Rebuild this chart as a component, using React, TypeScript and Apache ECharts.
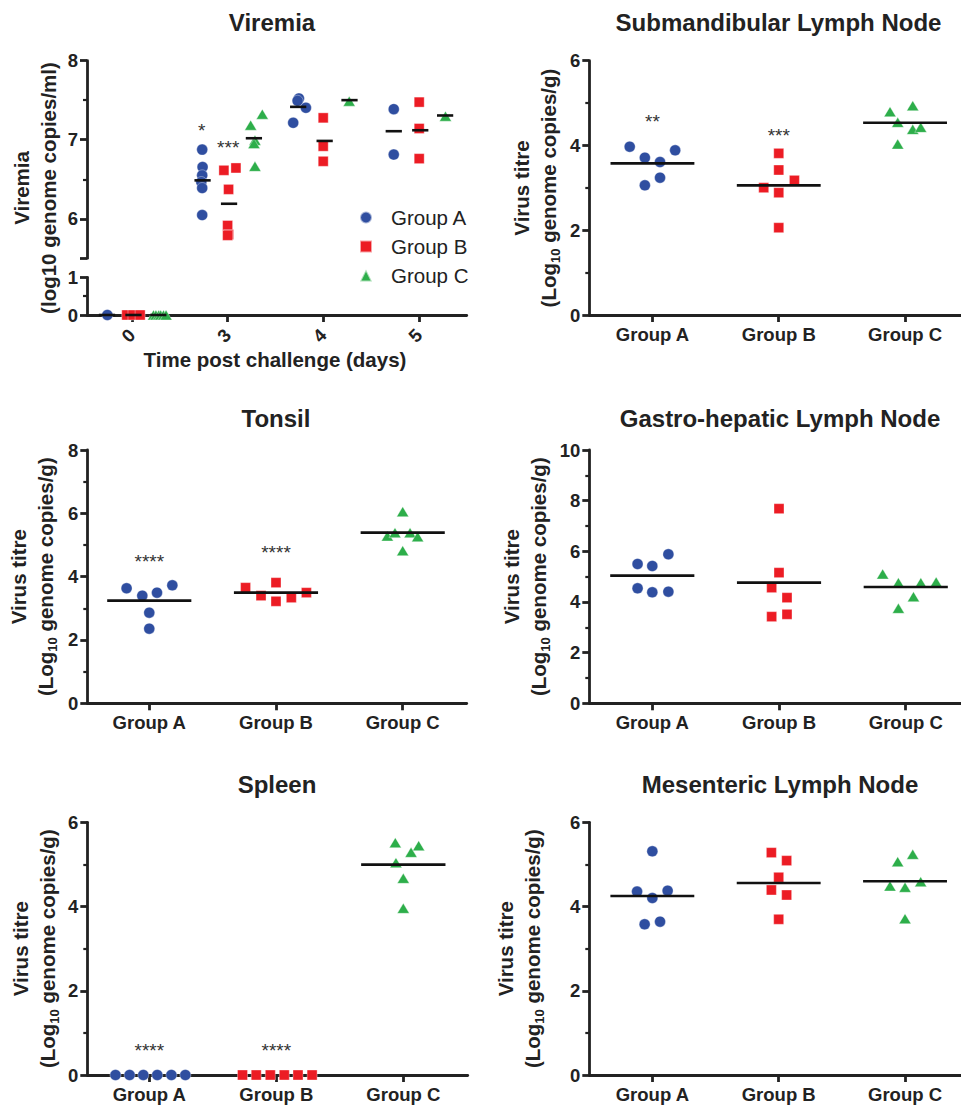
import React, { useEffect, useRef } from 'react';
import * as echarts from 'echarts';

// ---------------- data ----------------
const groupNames = ['Group A', 'Group B', 'Group C'];
const dayLabels = ['0', '3', '4', '5'];
const tissueCategories = ['Group A', 'Group B', 'Group C'];

// Viremia (log10 genome copies/ml), per group, per day (0, 3, 4, 5)
const viremiaA = [[0], [6.875, 6.655, 6.55, 6.465, 6.389, 6.047], [7.522, 7.493, 7.404, 7.214], [7.387, 6.812]];
const viremiaB = [[0, 0, 0], [6.613, 6.643, 6.372, 5.915, 5.801, 5.79], [7.277, 6.918, 6.727], [7.476, 7.142, 6.761]];
const viremiaC = [[0, 0, 0, 0, 0, 0], [7.184, 7.323, 6.994, 6.951, 6.664], [7.488], [7.298]];
// horizontal jitter of each point (in day-category units)
const viremiaJitterA = [[-0.258], [-0.266, -0.262, -0.266, -0.275, -0.266, -0.266], [-0.254, -0.268, -0.181, -0.314], [-0.262, -0.262]];
const viremiaJitterB = [[-0.055, 0.01, 0.085], [-0.039, 0.087, 0.01, 0, 0.01, 0.0], [0, 0, 0], [0.004, 0.004, 0.004]];
const viremiaJitterC = [[0.225, 0.25, 0.28, 0.3, 0.33, 0.356], [0.241, 0.363, 0.286, 0.276, 0.286], [0.272], [0.279]];
const viremiaMeanA = [0, 6.486, 7.416, 7.108];
const viremiaMeanB = [0, 6.19, 6.985, 7.12];
const viremiaMeanC = [0, 7.019, 7.501, 7.307];
const viremiaMeanShift = [-0.262, 0.015, 0.275];
const viremiaStarText = ['*', '***'];
const viremiaStarDay = [1, 1];
const viremiaStarShift = [-0.272, 0.006];
const viremiaStarY = [7.174, 6.955];

// Submandibular lymph node
const submandA = [3.971, 3.712, 3.609, 3.885, 3.24, 3.059];
const submandB = [3.814, 3.421, 3.177, 3.004, 2.886, 2.06];
const submandC = [4.797, 4.938, 4.545, 4.38, 4.427, 4.034];
const submandJitterA = [-0.18, -0.06, 0.06, 0.18, 0.06, -0.06];
const submandJitterB = [0, 0, 0.124, -0.119, 0, 0];
const submandJitterC = [-0.119, 0.061, -0.058, 0.061, 0.124, -0.058];
const submandMeans = [3.578, 3.059, 4.537];
const submandStars = ['**', '***', ''];
const submandStarY = [4.679, 4.349, 0];

// Tonsil
const tonsilA = [3.632, 3.4, 3.495, 3.726, 2.863, 2.358];
const tonsilB = [3.653, 3.4, 3.811, 3.221, 3.337, 3.495];
const tonsilC = [6.053, 5.284, 5.389, 5.389, 5.263, 4.821];
const tonsilJitterA = [-0.179, -0.055, 0.061, 0.182, 0, 0];
const tonsilJitterB = [-0.24, -0.118, 0, 0, 0.121, 0.24];
const tonsilJitterC = [0, -0.121, -0.061, 0.058, 0.118, 0];
const tonsilMeans = [3.242, 3.495, 5.389];
const tonsilStars = ['****', '****', ''];
const tonsilStarY = [4.632, 4.895, 0];

// Gastro-hepatic lymph node
const gastroA = [5.5, 5.421, 5.882, 4.539, 4.382, 4.408];
const gastroB = [7.684, 5.158, 4.566, 4.171, 3.421, 3.513];
const gastroC = [5.105, 4.763, 4.763, 4.789, 4.211, 3.75];
const gastroJitterA = [-0.116, 0, 0.127, -0.116, 0, 0.127];
const gastroJitterB = [0, 0, -0.058, 0.063, -0.058, 0.063];
const gastroJitterC = [-0.182, -0.058, 0.119, 0.24, 0.061, -0.058];
const gastroMeans = [5.039, 4.763, 4.592];
const gastroStars = ['', '', ''];
const gastroStarY = [0, 0, 0];

// Spleen
const spleenA = [0, 0, 0, 0, 0, 0];
const spleenB = [0, 0, 0, 0, 0, 0];
const spleenC = [5.517, 5.446, 5.288, 5.042, 4.67, 3.958];
const spleenJitterA = [-0.266, -0.155, -0.047, 0.063, 0.174, 0.284];
const spleenJitterB = [-0.266, -0.158, -0.047, 0.063, 0.171, 0.282];
const spleenJitterC = [-0.063, 0.121, 0.061, -0.058, 0, 0];
const spleenMeans = [null, null, 4.995];
const spleenStars = ['****', '****', ''];
const spleenStarY = [0.689, 0.689, 0];

// Mesenteric lymph node
const mesenA = [5.311, 4.354, 4.377, 4.203, 3.641, 3.578];
const mesenB = [5.28, 5.09, 4.694, 4.393, 4.274, 3.697];
const mesenC = [5.066, 5.24, 4.591, 4.488, 4.457, 3.712];
const mesenJitterA = [0, -0.121, 0.121, 0, 0.061, -0.061];
const mesenJitterB = [-0.058, 0.063, 0, -0.058, 0.063, 0];
const mesenJitterC = [-0.058, 0.061, 0.124, -0.119, 0, 0];
const mesenMeans = [4.251, 4.559, 4.599];
const mesenStars = ['', '', ''];
const mesenStarY = [0, 0, 0];

// ---------------- style ----------------
const FONT = '"Liberation Sans", Arial, Helvetica, sans-serif';
const INK = '#222222';
const COLORS = ['#2F4EA0', '#EC1C24', '#2DAE4A'];
const SYMBOLS = ['circle', 'rect', 'triangle'];
const SYMBOL_SIZES: any[] = [11, 10, [12, 10]];

const lineStyle = { color: INK, width: 2.8 };
const labelStyle = { fontFamily: FONT, fontSize: 18.5, fontWeight: 'bold', color: INK };

function buildOption() {
  const grid: any[] = [];
  const xAxis: any[] = [];
  const yAxis: any[] = [];
  const series: any[] = [];
  const graphic: any[] = [];

  const addGrid = (r: any) => {
    grid.push({ left: r.left, top: r.top, width: r.width, height: r.height, containLabel: false, outerBoundsMode: 'none', show: false });
    return grid.length - 1;
  };
  const addX = (a: any) => { xAxis.push(a); return xAxis.length - 1; };
  const addY = (a: any) => { yAxis.push(a); return yAxis.length - 1; };

  const visibleX = (gi: number, min: number, max: number, labels: string[], rotate: number) => {
    const ticks = labels.map((_, i) => i);
    return {
      gridIndex: gi, type: 'value', min, max, position: 'bottom',
      axisLine: { show: true, onZero: false, lineStyle },
      axisTick: { show: true, inside: false, length: 7, customValues: ticks, lineStyle },
      axisLabel: { show: true, customValues: ticks, formatter: (v: number) => labels[Math.round(v)], rotate, margin: rotate ? 17 : 10, ...labelStyle },
      splitLine: { show: false }, minorTick: { show: false }, minorSplitLine: { show: false },
    };
  };
  const visibleY = (gi: number, min: number, max: number, interval: number) => ({
    gridIndex: gi, type: 'value', position: 'left', min, max, interval,
    axisLine: { show: true, onZero: false, lineStyle },
    axisTick: { show: true, inside: false, length: 7, lineStyle },
    minorTick: { show: true, splitNumber: 2, length: 4, lineStyle: { color: INK, width: 2.2 } },
    axisLabel: { show: true, margin: 9, ...labelStyle },
    splitLine: { show: false }, minorSplitLine: { show: false },
  });

  const scatter = (g: number, xi: number, yi: number, data: number[][]) => ({
    type: 'scatter', name: groupNames[g], xAxisIndex: xi, yAxisIndex: yi, data,
    symbol: SYMBOLS[g], symbolSize: SYMBOL_SIZES[g],
    itemStyle: { color: COLORS[g], borderColor: 'rgba(255,255,255,0.6)', borderWidth: 0.6, opacity: 1 },
    clip: false, z: 3, silent: true, emphasis: { disabled: true },
  });
  const meanLines = (xi: number, yi: number, data: number[][], hw: number) => ({
    type: 'custom', coordinateSystem: 'cartesian2d', xAxisIndex: xi, yAxisIndex: yi, data, clip: false, z: 4, silent: true,
    renderItem: (params: any, api: any) => {
      const x = api.value(0), y = api.value(1);
      const p1 = api.coord([x - hw, y]);
      const p2 = api.coord([x + hw, y]);
      return { type: 'line', shape: { x1: p1[0], y1: p1[1], x2: p2[0], y2: p2[1] }, style: { stroke: '#111', lineWidth: 2.6 } };
    },
  });
  const starSeries = (xi: number, yi: number, data: number[][], texts: string[]) => ({
    type: 'custom', coordinateSystem: 'cartesian2d', xAxisIndex: xi, yAxisIndex: yi, data, clip: false, z: 5, silent: true,
    renderItem: (params: any, api: any) => {
      const p = api.coord([api.value(0), api.value(1)]);
      return {
        type: 'text', x: p[0], y: p[1] + 4.6,
        style: { text: texts[params.dataIndex], fill: '#333', fontFamily: FONT, fontSize: 19, align: 'center', verticalAlign: 'middle' },
      };
    },
  });

  const RICH = {
    t: { fontFamily: FONT, fontWeight: 'bold', fontSize: 20.5, lineHeight: 27, fill: INK },
    s: { fontFamily: FONT, fontWeight: 'bold', fontSize: 13, lineHeight: 14, verticalAlign: 'bottom', fill: INK },
  };
  const yName = (text: string, x: number, y: number) => ({
    type: 'text', x, y, rotation: Math.PI / 2, silent: true,
    style: { text, rich: RICH, align: 'center', verticalAlign: 'middle', fill: INK, fontFamily: FONT, fontWeight: 'bold', fontSize: 20.5, lineHeight: 27 },
  });
  const title = (text: string, x: number, y: number) => ({
    type: 'text', x, y, silent: true,
    style: { text, fill: INK, fontFamily: FONT, fontWeight: 'bold', fontSize: 24, align: 'center', verticalAlign: 'middle' },
  });
  const TISSUE_NAME = '{t|Virus titre}\n{t|(Log}{s|10}{t| genome copies/g)}';

  // ---------- Viremia ----------
  const VX_MIN = -0.471, VX_MAX = 3.501;
  const gU = addGrid({ left: 87, top: 60.7, width: 379.7, height: 197.6 });
  const gL = addGrid({ left: 87, top: 277.3, width: 379.7, height: 37.7 });
  const xU = addX({ gridIndex: gU, type: 'value', min: VX_MIN, max: VX_MAX, show: false, splitLine: { show: false } });
  const xL = addX(visibleX(gL, VX_MIN, VX_MAX, dayLabels, 45));
  const yU = addY({
    gridIndex: gU, type: 'value', position: 'left', min: 5.5, max: 8,
    axisLine: { show: true, onZero: false, lineStyle },
    axisTick: { show: true, length: 7, customValues: [5.5, 6, 7, 8], lineStyle },
    axisLabel: { show: true, customValues: [6, 7, 8], margin: 9, ...labelStyle },
    splitLine: { show: false }, minorTick: { show: false },
  });
  addY({
    gridIndex: gU, type: 'value', position: 'left', min: 5.5, max: 8,
    axisLine: { show: false, onZero: false },
    axisTick: { show: true, length: 4, customValues: [6.5, 7.5], lineStyle: { color: INK, width: 2.2 } },
    axisLabel: { show: false }, splitLine: { show: false }, minorTick: { show: false },
  });
  const yL = addY(visibleY(gL, 0, 1, 1));

  const vValues = [viremiaA, viremiaB, viremiaC];
  const vJitter = [viremiaJitterA, viremiaJitterB, viremiaJitterC];
  const vMeans = [viremiaMeanA, viremiaMeanB, viremiaMeanC];
  for (let g = 0; g < 3; g++) {
    const upper: number[][] = [];
    const lower: number[][] = [];
    vValues[g].forEach((vals, d) => {
      vals.forEach((v, k) => {
        const pt = [d + vJitter[g][d][k], v];
        if (d === 0) lower.push(pt); else upper.push(pt);
      });
    });
    series.push(scatter(g, xU, yU, upper));
    series.push(scatter(g, xL, yL, lower));
    const mU: number[][] = [];
    const mL: number[][] = [];
    vMeans[g].forEach((m, d) => {
      const pt = [d + viremiaMeanShift[g], m];
      if (d === 0) mL.push(pt); else mU.push(pt);
    });
    series.push(meanLines(xU, yU, mU, 0.085));
    series.push(meanLines(xL, yL, mL, 0.085));
  }
  series.push(starSeries(xU, yU, viremiaStarText.map((_, i) => [viremiaStarDay[i] + viremiaStarShift[i], viremiaStarY[i]]), viremiaStarText));

  graphic.push(title('Viremia', 272, 22));
  graphic.push(yName('{t|Viremia}\n{t|(log10 genome copies/ml)}', 34.5, 188));
  graphic.push({
    type: 'text', x: 275, y: 359, silent: true,
    style: { text: 'Time post challenge (days)', fill: INK, fontFamily: FONT, fontWeight: 'bold', fontSize: 20.5, align: 'center', verticalAlign: 'middle' },
  });

  // ---------- tissue panels ----------
  const panels = [
    {
      title: 'Submandibular Lymph Node', titlePos: [778.5, 22], nameX: 535, nameY: 188,
      grid: { left: 589.3, top: 60.7, width: 371.7, height: 254.3 }, xMin: -0.5, xMax: 2.443, yMax: 6,
      values: [submandA, submandB, submandC], jitter: [submandJitterA, submandJitterB, submandJitterC],
      means: submandMeans, stars: submandStars, starY: submandStarY,
    },
    {
      title: 'Tonsil', titlePos: [276, 418], nameX: 31.7, nameY: 576.7,
      grid: { left: 87.3, top: 450, width: 379.4, height: 253.3 }, xMin: -0.489, xMax: 2.505, yMax: 8,
      values: [tonsilA, tonsilB, tonsilC], jitter: [tonsilJitterA, tonsilJitterB, tonsilJitterC],
      means: tonsilMeans, stars: tonsilStars, starY: tonsilStarY,
    },
    {
      title: 'Gastro-hepatic Lymph Node', titlePos: [780, 418], nameX: 524.5, nameY: 576.7,
      grid: { left: 589.3, top: 450, width: 371.7, height: 253.3 }, xMin: -0.497, xMax: 2.436, yMax: 10,
      values: [gastroA, gastroB, gastroC], jitter: [gastroJitterA, gastroJitterB, gastroJitterC],
      means: gastroMeans, stars: gastroStars, starY: gastroStarY,
    },
    {
      title: 'Spleen', titlePos: [277, 784], nameX: 33.7, nameY: 948.7,
      grid: { left: 87.3, top: 822.3, width: 380.4, height: 252.7 }, xMin: -0.488, xMax: 2.507, yMax: 6,
      values: [spleenA, spleenB, spleenC], jitter: [spleenJitterA, spleenJitterB, spleenJitterC],
      means: spleenMeans, stars: spleenStars, starY: spleenStarY,
    },
    {
      title: 'Mesenteric Lymph Node', titlePos: [780, 784], nameX: 519, nameY: 948.7,
      grid: { left: 589.3, top: 822.3, width: 371.7, height: 252.7 }, xMin: -0.499, xMax: 2.443, yMax: 6,
      values: [mesenA, mesenB, mesenC], jitter: [mesenJitterA, mesenJitterB, mesenJitterC],
      means: mesenMeans, stars: mesenStars, starY: mesenStarY,
    },
  ];

  panels.forEach((p) => {
    const gi = addGrid(p.grid);
    const xi = addX(visibleX(gi, p.xMin, p.xMax, tissueCategories, 0));
    const yi = addY(visibleY(gi, 0, p.yMax, 2));
    for (let g = 0; g < 3; g++) {
      series.push(scatter(g, xi, yi, p.values[g].map((v, k) => [g + p.jitter[g][k], v])));
    }
    const md: number[][] = [];
    p.means.forEach((m, g) => { if (m !== null && m !== undefined) md.push([g, m as number]); });
    series.push(meanLines(xi, yi, md, 0.332));
    const sd: number[][] = [];
    const st: string[] = [];
    p.stars.forEach((s, g) => { if (s) { sd.push([g, p.starY[g]]); st.push(s); } });
    if (sd.length) series.push(starSeries(xi, yi, sd, st));
    graphic.push(title(p.title, p.titlePos[0], p.titlePos[1]));
    graphic.push(yName(TISSUE_NAME, p.nameX, p.nameY));
  });

  return {
    animation: false,
    backgroundColor: '#ffffff',
    grid, xAxis, yAxis, series, graphic,
    legend: {
      orient: 'vertical', left: 354, top: 202, itemWidth: 12, itemHeight: 12, itemGap: 8,
      selectedMode: false,
      data: groupNames.map((n, i) => ({ name: n, icon: SYMBOLS[i] })),
      textStyle: { fontFamily: FONT, fontSize: 20.5, color: INK, lineHeight: 20, padding: [0, 0, 0, 14] },
    },
  };
}

export default function App() {
  const ref = useRef<HTMLDivElement>(null);
  useEffect(() => {
    if (!ref.current) return;
    const chart = echarts.init(ref.current, null, { renderer: 'svg' });
    chart.setOption(buildOption() as any);
    return () => chart.dispose();
  }, []);
  return (
    <div
      ref={ref}
      style={{ position: 'absolute', left: 0, top: 0, width: 961, height: 1106, background: '#ffffff' }}
    />
  );
}
